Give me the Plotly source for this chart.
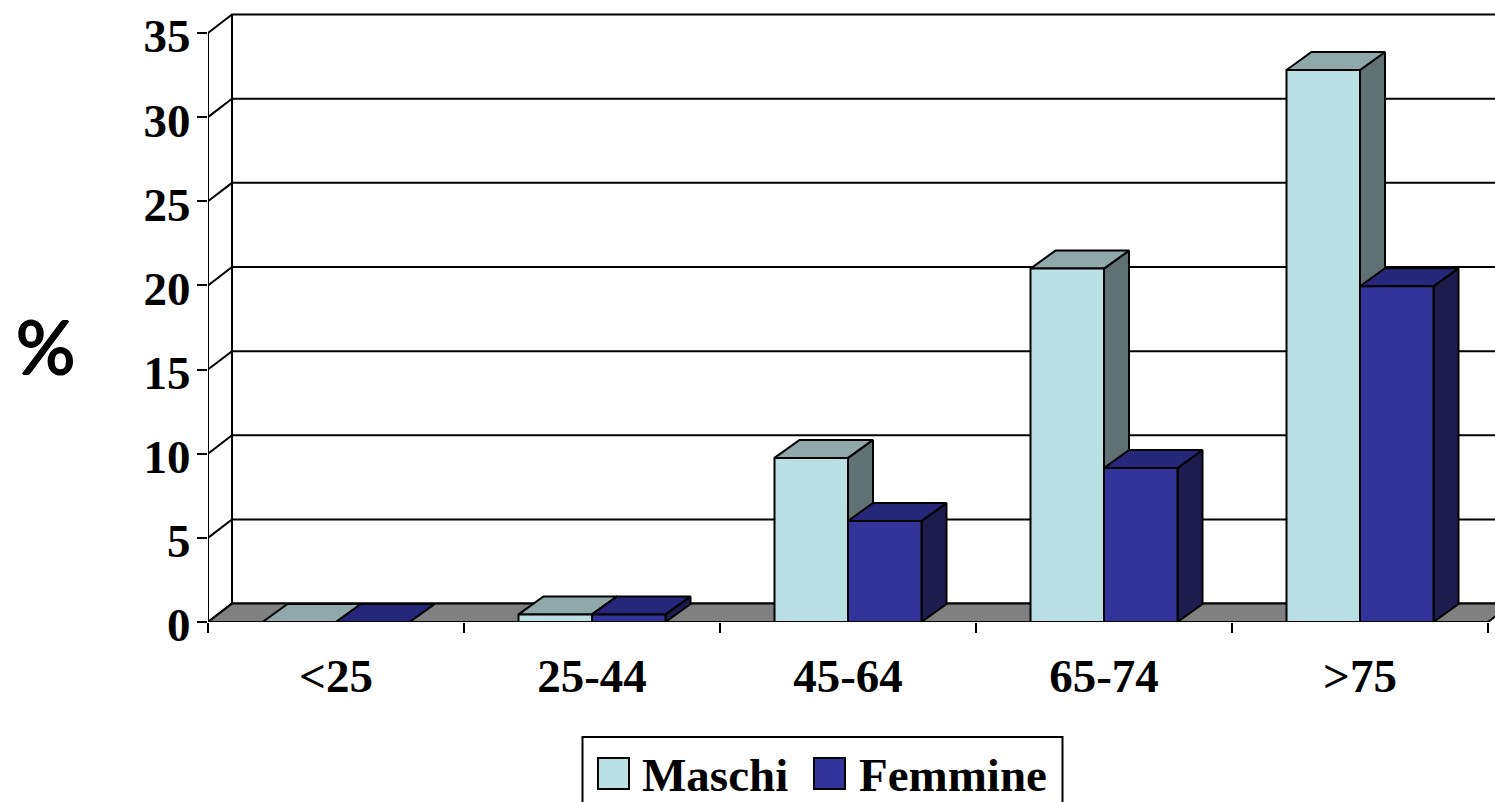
import plotly.graph_objects as go

categories = ["<25", "25-44", "45-64", "65-74", ">75"]
maschi = [0, 0.45, 9.75, 21.0, 32.8]
femmine = [0, 0.45, 6.0, 9.15, 19.95]
y_ticks = [0, 5, 10, 15, 20, 25, 30, 35]

W, H = 1495, 802
ML, MB = 208, 180
PX_X = 256.0
PX_Y = 16.83
PLOT_W, PLOT_H = W - ML, H - MB
FONT = "Liberation Serif"
INK = "#000000"

wall_dx, wall_dy = 24 / PX_X, 18.4 / PX_Y
bar_dx, bar_dy = 25 / PX_X, 18 / PX_Y
bar_w = 73.5 / PX_X
x_min, x_max = -0.5, -0.5 + PLOT_W / PX_X
y_top = PLOT_H / PX_Y
far = len(categories) - 0.5

series = [
    ("Maschi", maschi, -1, "#BBE0E3", "#8FA8AA", "#5F7173"),
    ("Femmine", femmine, 0, "#333399", "#26267A", "#1C1C4D"),
]

fig = go.Figure()


def poly(xs, ys, fill, name):
    fig.add_trace(go.Scatter(
        x=xs + xs[:1], y=ys + ys[:1], mode="lines", fill="toself", fillcolor=fill,
        line=dict(color=INK, width=2), showlegend=False, name=name,
        hoverinfo="skip", cliponaxis=False,
    ))


# back wall grid + side wall connectors
gx, gy = [], []
for t in y_ticks:
    gx += [x_min, x_min + wall_dx, x_max + 1, None]
    gy += [t, t + wall_dy, t + wall_dy, None]
gx += [x_min, x_min, None, x_min + wall_dx, x_min + wall_dx]
gy += [0, y_ticks[-1], None, wall_dy, y_ticks[-1] + wall_dy]
fig.add_trace(go.Scatter(x=gx, y=gy, mode="lines", line=dict(color=INK, width=2),
                         showlegend=False, hoverinfo="skip", name="grid", cliponaxis=False))

# floor
poly([x_min, far, far + wall_dx, x_min + wall_dx], [0, 0, wall_dy, wall_dy], "#808080", "floor")

# bars, back to front within each group
for i in range(len(categories)):
    for name, vals, off, front, top, side in series:
        v = vals[i]
        x0 = i + off * bar_w
        x1 = x0 + bar_w
        poly([x1, x1 + bar_dx, x1 + bar_dx, x1], [0, bar_dy, v + bar_dy, v], side, name + " side")
        poly([x0, x1, x1 + bar_dx, x0 + bar_dx], [v, v, v + bar_dy, v + bar_dy], top, name + " top")
        poly([x0, x1, x1, x0], [0, 0, v, v], front, name)


def px(x):
    return (x - ML) / PLOT_W


def py(y):
    return (H - MB - y) / PLOT_H


shapes = [
    dict(type="rect", xref="paper", yref="paper", x0=px(582.5), x1=px(1062.5), y0=py(815), y1=py(737),
         line=dict(color=INK, width=2), fillcolor="#FFFFFF"),
    dict(type="rect", xref="paper", yref="paper", x0=px(598), x1=px(629), y0=py(789), y1=py(758),
         line=dict(color=INK, width=2), fillcolor=series[0][3]),
    dict(type="rect", xref="paper", yref="paper", x0=px(814), x1=px(845), y0=py(789), y1=py(758),
         line=dict(color=INK, width=2), fillcolor=series[1][3]),
]
bold = dict(family=FONT, size=47, color=INK, weight="bold")
annotations = [
    dict(text="Maschi", xref="paper", yref="paper", x=px(640), y=py(775), xanchor="left", yanchor="middle",
         showarrow=False, font=bold),
    dict(text="Femmine", xref="paper", yref="paper", x=px(857), y=py(775), xanchor="left", yanchor="middle",
         showarrow=False, font=bold),
    dict(text="%", xref="paper", yref="paper", x=px(46), y=py(345), xanchor="center", yanchor="middle",
         showarrow=False, font=dict(family="Lato", size=74, color=INK,
                                    shadow="1px 0 0 #000, -1px 0 0 #000, 0 1px 0 #000, 0 -1px 0 #000")),
]

fig.update_layout(
    width=W, height=H, autosize=False,
    margin=dict(l=ML, r=0, t=0, b=MB, pad=0),
    paper_bgcolor="#FFFFFF", plot_bgcolor="#FFFFFF",
    showlegend=False, shapes=shapes, annotations=annotations,
    xaxis=dict(
        range=[x_min, x_max], showgrid=False, zeroline=False, showline=False,
        tickmode="array", tickvals=list(range(len(categories))), ticktext=categories,
        ticks="", ticklabelstandoff=22, tickfont=bold,
        minor=dict(tickmode="array", tickvals=[i - 0.5 for i in range(len(categories) + 1)],
                   ticks="outside", ticklen=10, tickwidth=2, tickcolor=INK, showgrid=False),
    ),
    yaxis=dict(
        range=[0, y_top], showgrid=False, zeroline=False, showline=False,
        tickmode="array", tickvals=y_ticks, ticks="outside", ticklen=10, tickwidth=2, tickcolor=INK,
        ticklabelstandoff=-3, ticklabelshift=3, tickfont=bold,
    ),
)

fig.write_html("out.html", config=dict(displayModeBar=False),
               post_script="document.body.style.margin='0';document.documentElement.style.overflow='hidden';")
